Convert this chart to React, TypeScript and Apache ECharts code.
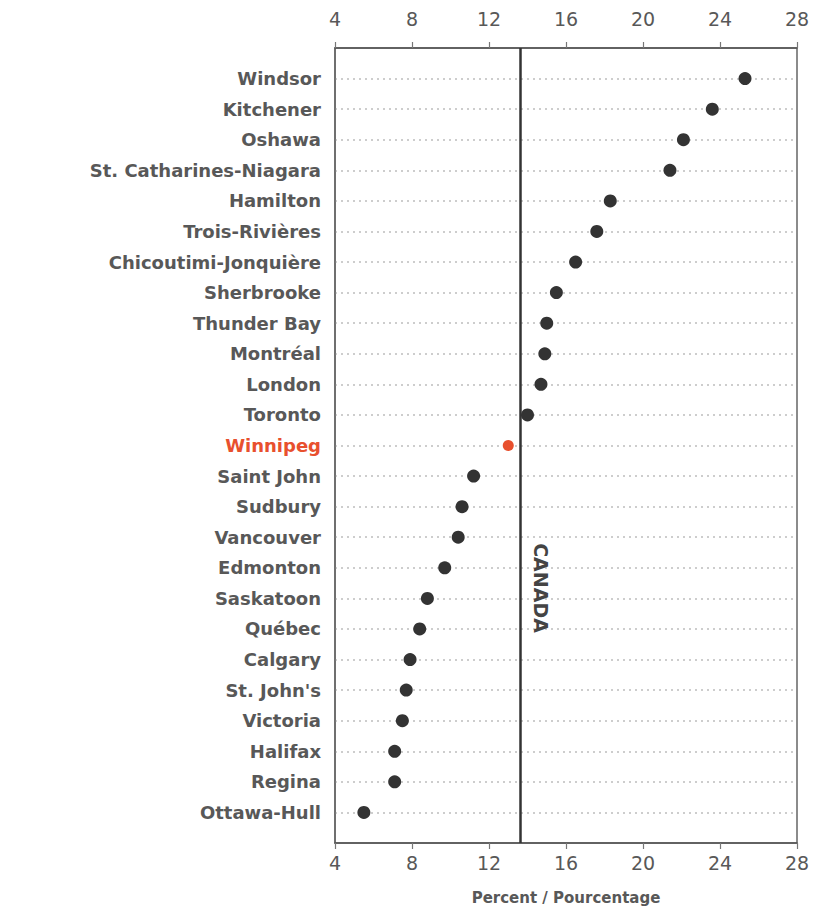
import React, { useEffect, useRef } from "react";
import * as echarts from "echarts";

const cities = [
  "Windsor", "Kitchener", "Oshawa", "St. Catharines-Niagara", "Hamilton",
  "Trois-Rivières", "Chicoutimi-Jonquière", "Sherbrooke", "Thunder Bay", "Montréal",
  "London", "Toronto", "Winnipeg", "Saint John", "Sudbury", "Vancouver",
  "Edmonton", "Saskatoon", "Québec", "Calgary", "St. John's", "Victoria",
  "Halifax", "Regina", "Ottawa-Hull",
];
const values = [
  25.3, 23.6, 22.1, 21.4, 18.3,
  17.6, 16.5, 15.5, 15.0, 14.9,
  14.7, 14.0, 13.0, 11.2, 10.6, 10.4,
  9.7, 8.8, 8.4, 7.9, 7.7, 7.5,
  7.1, 7.1, 5.5,
];
const highlightCity = "Winnipeg";
const canadaValue = 13.6;
const canadaLabel = "CANADA";
const xMin = 4;
const xMax = 28;
const xInterval = 4;
const xAxisTitle = "Percent / Pourcentage";

const FONT = "DejaVu Sans";
const TEXT = "#585858";
const RED = "#e8502e";

export default function App() {
  const ref = useRef<HTMLDivElement>(null);
  useEffect(() => {
    if (!ref.current) return;
    const chart = echarts.init(ref.current, undefined, { renderer: "svg" });
    const cats = ["", ...cities, ""];
    const data = cities.map((c, i) => ({
      value: [values[i], c],
      symbolSize: c === highlightCity ? 11 : 13,
      itemStyle: { color: c === highlightCity ? RED : "#333333", opacity: 1 },
    }));
    const xAxisCommon = {
      type: "value" as const,
      min: xMin,
      max: xMax,
      interval: xInterval,
      axisLine: { show: true, lineStyle: { color: "#555", width: 1.5 } },
      axisTick: { show: true, length: 6, lineStyle: { color: "#777", width: 1.2 } },
      splitLine: { show: false },
    };
    const tickLabel = { color: TEXT, fontFamily: FONT, fontSize: 19 };
    chart.setOption({
      animation: false,
      backgroundColor: "#ffffff",
      grid: {
        left: 335,
        right: 39,
        top: 48,
        bottom: 68,
        show: true,
        borderColor: "#666",
        borderWidth: 1.5,
        backgroundColor: "transparent",
        containLabel: false,
        outerBoundsMode: "none",
      },
      xAxis: [
        {
          ...xAxisCommon,
          position: "bottom",
          axisLabel: { ...tickLabel, margin: 10 },
          name: xAxisTitle,
          nameLocation: "middle",
          nameGap: 47,
          nameTextStyle: { color: TEXT, fontFamily: FONT, fontSize: 15, fontWeight: "bold" },
        },
        { ...xAxisCommon, position: "top", axisLabel: { ...tickLabel, margin: 20 } },
      ],
      yAxis: {
        type: "category",
        data: cats,
        inverse: true,
        boundaryGap: false,
        axisLine: { show: true, lineStyle: { color: "#666", width: 1.5 } },
        axisTick: { show: false },
        axisLabel: {
          color: TEXT,
          fontFamily: FONT,
          fontSize: 18,
          fontWeight: "bold",
          margin: 14,
          formatter: (v: string) => (v === highlightCity ? `{hl|${v}}` : v),
          rich: { hl: { color: RED, fontFamily: FONT, fontSize: 18, fontWeight: "bold" } },
        },
        splitLine: {
          show: true,
          interval: (i: number) => i > 0 && i < cats.length - 1,
          lineStyle: { color: "#bdbdbd", type: [2, 4], width: 1.5 },
        },
      },
      series: [
        {
          type: "scatter",
          xAxisIndex: 0,
          data,
          z: 5,
          itemStyle: { opacity: 1 },
          markLine: {
            silent: true,
            symbol: "none",
            label: { show: false },
            lineStyle: { color: "#333", width: 2.5, type: "solid" },
            data: [{ xAxis: canadaValue }],
          },
        },
      ],
    });
    const px = chart.convertToPixel({ xAxisIndex: 0 }, canadaValue) as number;
    chart.setOption({
      graphic: [
        {
          type: "text",
          x: px + 21,
          y: 588,
          rotation: -Math.PI / 2,
          style: {
            text: canadaLabel,
            fill: "#444",
            font: `bold 19px "${FONT}"`,
            align: "center",
            verticalAlign: "middle",
          },
        },
      ],
    });
    return () => chart.dispose();
  }, []);
  return <div ref={ref} style={{ width: 836, height: 911, marginLeft: -8, marginTop: -8 }} />;
}
